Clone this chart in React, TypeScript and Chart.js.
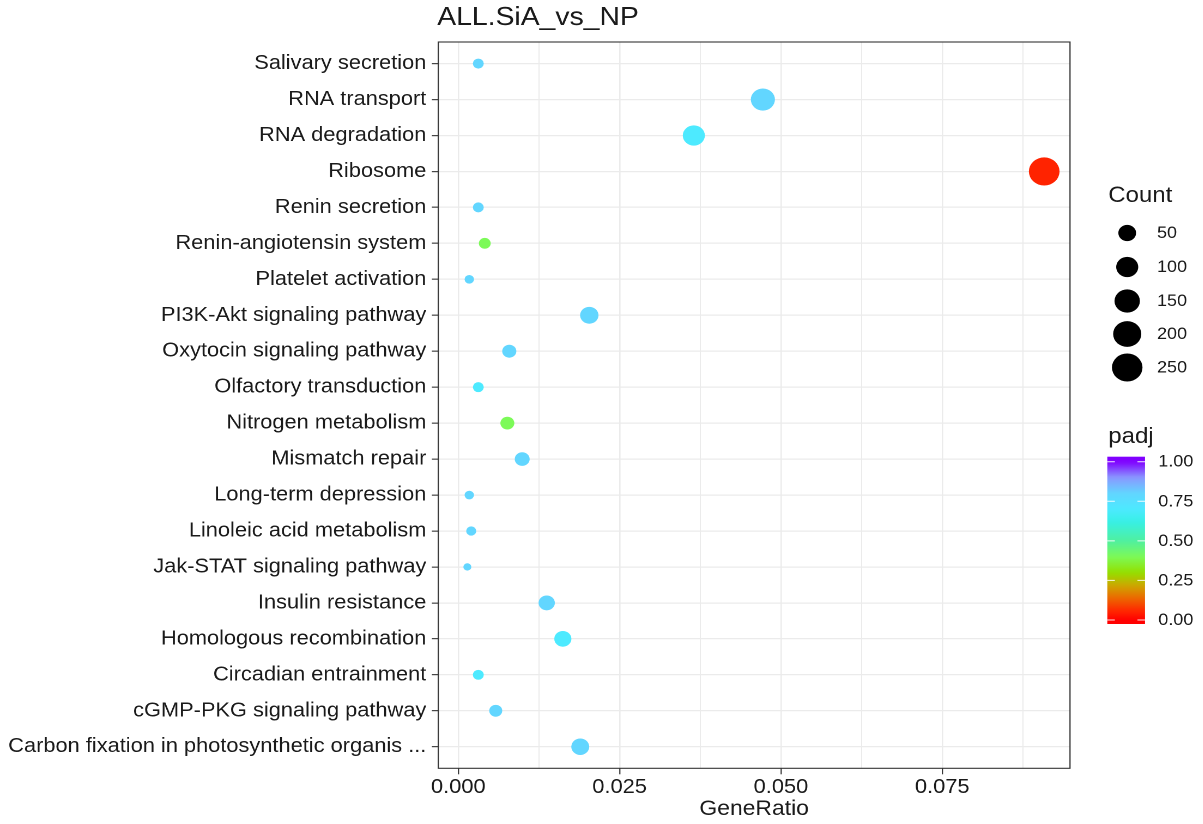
import React, { useEffect, useRef } from "react";
import { Chart, registerables } from "chart.js";

Chart.register(...registerables);

// ---------- data ----------
const chartTitle = "ALL.SiA_vs_NP";
const xAxisTitle = "GeneRatio";
const categories = [
  "Salivary secretion",
  "RNA transport",
  "RNA degradation",
  "Ribosome",
  "Renin secretion",
  "Renin-angiotensin system",
  "Platelet activation",
  "PI3K-Akt signaling pathway",
  "Oxytocin signaling pathway",
  "Olfactory transduction",
  "Nitrogen metabolism",
  "Mismatch repair",
  "Long-term depression",
  "Linoleic acid metabolism",
  "Jak-STAT signaling pathway",
  "Insulin resistance",
  "Homologous recombination",
  "Circadian entrainment",
  "cGMP-PKG signaling pathway",
  "Carbon fixation in photosynthetic organis ...",
];
const geneRatio = [
  0.0031, 0.0472, 0.0365, 0.0908, 0.0031, 0.0041, 0.0017, 0.0203, 0.0079, 0.0031,
  0.0076, 0.0099, 0.0017, 0.002, 0.0014, 0.0137, 0.0162, 0.0031, 0.0058, 0.0189,
];
const counts = [8, 129, 100, 252, 8, 11, 5, 56, 22, 8, 21, 27, 5, 6, 4, 37, 44, 8, 16, 52];
const padj = [
  0.8, 0.8, 0.7, 0.05, 0.8, 0.4, 0.8, 0.8, 0.8, 0.7,
  0.4, 0.8, 0.8, 0.8, 0.8, 0.8, 0.7, 0.7, 0.8, 0.8,
];
const xTickValues = [0, 0.0125, 0.025, 0.0375, 0.05, 0.0625, 0.075, 0.0875];
const xTickLabels = ["0.000", "", "0.025", "", "0.050", "", "0.075", ""];
const sizeBreaks = [50, 100, 150, 200, 250];
const padjBreaks = [0, 0.25, 0.5, 0.75, 1];
const padjBreakLabels = ["0.00", "0.25", "0.50", "0.75", "1.00"];

// ---------- colour scale (padj) ----------
const colorStops: [number, string][] = [
  [0.0, "#ff0000"],
  [0.06, "#ff2a00"],
  [0.14, "#ec6a00"],
  [0.22, "#cca800"],
  [0.3, "#94e000"],
  [0.4, "#7cfa58"],
  [0.5, "#50f0a0"],
  [0.62, "#38f0e6"],
  [0.7, "#4deaff"],
  [0.8, "#62d6ff"],
  [0.9, "#8a98ff"],
  [1.0, "#8000ff"],
];
function hex(h: string) {
  return [parseInt(h.slice(1, 3), 16), parseInt(h.slice(3, 5), 16), parseInt(h.slice(5, 7), 16)];
}
function colorFor(v: number) {
  const t = Math.max(0, Math.min(1, v));
  for (let i = 0; i < colorStops.length - 1; i++) {
    const [a, ca] = colorStops[i];
    const [b, cb] = colorStops[i + 1];
    if (t >= a && t <= b) {
      const f = (t - a) / (b - a);
      const A = hex(ca), B = hex(cb);
      const c = A.map((x, k) => Math.round(x + (B[k] - x) * f));
      return `rgb(${c[0]},${c[1]},${c[2]})`;
    }
  }
  return colorStops[colorStops.length - 1][1];
}

// ---------- layout ----------
const SX = 1.09; // horizontal stretch of the reference
const CW = Math.round(1203 / SX);
const CH = 824;
const PLOT_LEFT = 438.3 / SX;
const PLOT_RIGHT = 1070 / SX;
const PLOT_TOP = 42;
const PLOT_BOTTOM = 768.3;
const FONT = '"Liberation Sans", Arial, Helvetica, sans-serif';
const TEXT = "#1a1a1a";

const cMin = Math.min(...counts);
const cMax = Math.max(...counts);
function diameterFor(c: number) {
  return 7.34 + 20.8 * Math.sqrt(Math.max(0, (c - cMin) / (cMax - cMin)));
}

const decorPlugin = {
  id: "decor",
  afterDatasetsDraw(chart: any) {
    const { ctx, chartArea } = chart;
    ctx.save();
    ctx.strokeStyle = "#333333";
    ctx.lineWidth = 1.1;
    ctx.strokeRect(chartArea.left, chartArea.top, chartArea.right - chartArea.left, chartArea.bottom - chartArea.top);
    ctx.restore();
  },
  afterDraw(chart: any) {
    const { ctx, chartArea } = chart;
    ctx.save();
    ctx.fillStyle = TEXT;
    // title
    ctx.font = `26px ${FONT}`;
    ctx.textAlign = "left";
    ctx.textBaseline = "middle";
    ctx.fillText(chartTitle, chartArea.left - 1, 18);
    // x axis title
    ctx.font = `21px ${FONT}`;
    ctx.textAlign = "center";
    ctx.fillText(xAxisTitle, (chartArea.left + chartArea.right) / 2, 809);

    // size legend
    ctx.textAlign = "left";
    ctx.font = `22px ${FONT}`;
    ctx.fillText("Count", 1108.3 / SX, 196);
    const keyY = [233, 267, 301, 334, 367.5];
    sizeBreaks.forEach((b, i) => {
      const d = diameterFor(b);
      ctx.fillStyle = "#000";
      ctx.beginPath();
      ctx.arc(1127.2 / SX, keyY[i], d / 2, 0, Math.PI * 2);
      ctx.fill();
      ctx.fillStyle = TEXT;
      ctx.font = `16.5px ${FONT}`;
      ctx.fillText(String(b), 1157 / SX, keyY[i] + 0.5);
    });

    // colour bar legend
    ctx.font = `22px ${FONT}`;
    ctx.fillStyle = TEXT;
    ctx.fillText("padj", 1108.3 / SX, 437);
    const bx0 = 1107.3 / SX, bx1 = 1145 / SX;
    const by0 = 456.7, by1 = 624;
    const y0 = 620, y1 = 461.7;
    const yFor = (v: number) => y0 - v * (y0 - y1);
    const grad = ctx.createLinearGradient(0, by1, 0, by0);
    for (let k = 0; k <= 50; k++) {
      const pos = k / 50;
      const y = by1 - pos * (by1 - by0);
      grad.addColorStop(pos, colorFor((y0 - y) / (y0 - y1)));
    }
    ctx.fillStyle = grad;
    ctx.fillRect(bx0, by0, bx1 - bx0, by1 - by0);
    const tw = (bx1 - bx0) / 5;
    ctx.strokeStyle = "rgba(255,255,255,0.9)";
    ctx.lineWidth = 1;
    padjBreaks.forEach((v, i) => {
      const y = yFor(v);
      ctx.beginPath();
      ctx.moveTo(bx0, y);
      ctx.lineTo(bx0 + tw, y);
      ctx.moveTo(bx1 - tw, y);
      ctx.lineTo(bx1, y);
      ctx.stroke();
      ctx.fillStyle = TEXT;
      ctx.font = `16.5px ${FONT}`;
      ctx.fillText(padjBreakLabels[i], 1158.3 / SX, y + 0.5);
    });
    ctx.restore();
  },
};

export default function App() {
  const ref = useRef<HTMLCanvasElement | null>(null);
  useEffect(() => {
    document.body.style.margin = "0";
    const canvas = ref.current!;
    const chart = new Chart(canvas, {
      type: "scatter",
      data: {
        datasets: [
          {
            data: categories.map((_, i) => ({ x: geneRatio[i], y: i + 1 })),
            backgroundColor: padj.map((p) => colorFor(p)),
            pointRadius: counts.map((c) => diameterFor(c) / 2),
            pointHoverRadius: counts.map((c) => diameterFor(c) / 2),
            pointStyle: "circle",
            borderWidth: 0,
          },
        ],
      },
      options: {
        animation: false,
        responsive: false,
        devicePixelRatio: 2,
        layout: { padding: { left: 0, top: PLOT_TOP, right: CW - PLOT_RIGHT, bottom: 0 } },
        plugins: { legend: { display: false }, tooltip: { enabled: false }, title: { display: false } },
        scales: {
          x: {
            type: "linear",
            min: -0.0031,
            max: 0.0948,
            afterBuildTicks: (s: any) => {
              s.ticks = xTickValues.map((v) => ({ value: v }));
            },
            afterFit: (s: any) => {
              s.height = CH - PLOT_BOTTOM;
            },
            ticks: {
              autoSkip: false,
              maxRotation: 0,
              minRotation: 0,
              padding: 1,
              color: TEXT,
              font: { family: FONT, size: 20 },
              callback: (_v: any, i: number) => xTickLabels[i],
            },
            grid: {
              color: "#ebebeb",
              lineWidth: (c: any) => (c.index % 2 === 0 ? 1.3 : 1.0),
              tickColor: (c: any) => (c.index % 2 === 0 ? "#333333" : "rgba(0,0,0,0)"),
              tickWidth: 1.1,
              tickLength: 6,
            },
            border: { display: false },
          },
          y: {
            type: "linear",
            reverse: true,
            min: 0.4,
            max: 20.6,
            afterBuildTicks: (s: any) => {
              s.ticks = categories.map((_, i) => ({ value: i + 1 }));
            },
            afterFit: (s: any) => {
              s.width = PLOT_LEFT;
            },
            ticks: {
              autoSkip: false,
              padding: 5,
              color: TEXT,
              font: { family: FONT, size: 20 },
              callback: (_v: any, i: number) => categories[i],
            },
            grid: {
              color: "#ebebeb",
              lineWidth: 1.3,
              tickColor: "#333333",
              tickWidth: 1.1,
              tickLength: 6,
            },
            border: { display: false },
          },
        },
      },
      plugins: [decorPlugin],
    } as any);
    return () => chart.destroy();
  }, []);
  return (
    <div style={{ width: 1203, height: CH, overflow: "hidden", background: "#fff" }}>
      <canvas
        ref={ref}
        width={CW}
        height={CH}
        style={{ display: "block", width: CW, height: CH, transform: `scaleX(${SX})`, transformOrigin: "0 0" }}
      />
    </div>
  );
}
